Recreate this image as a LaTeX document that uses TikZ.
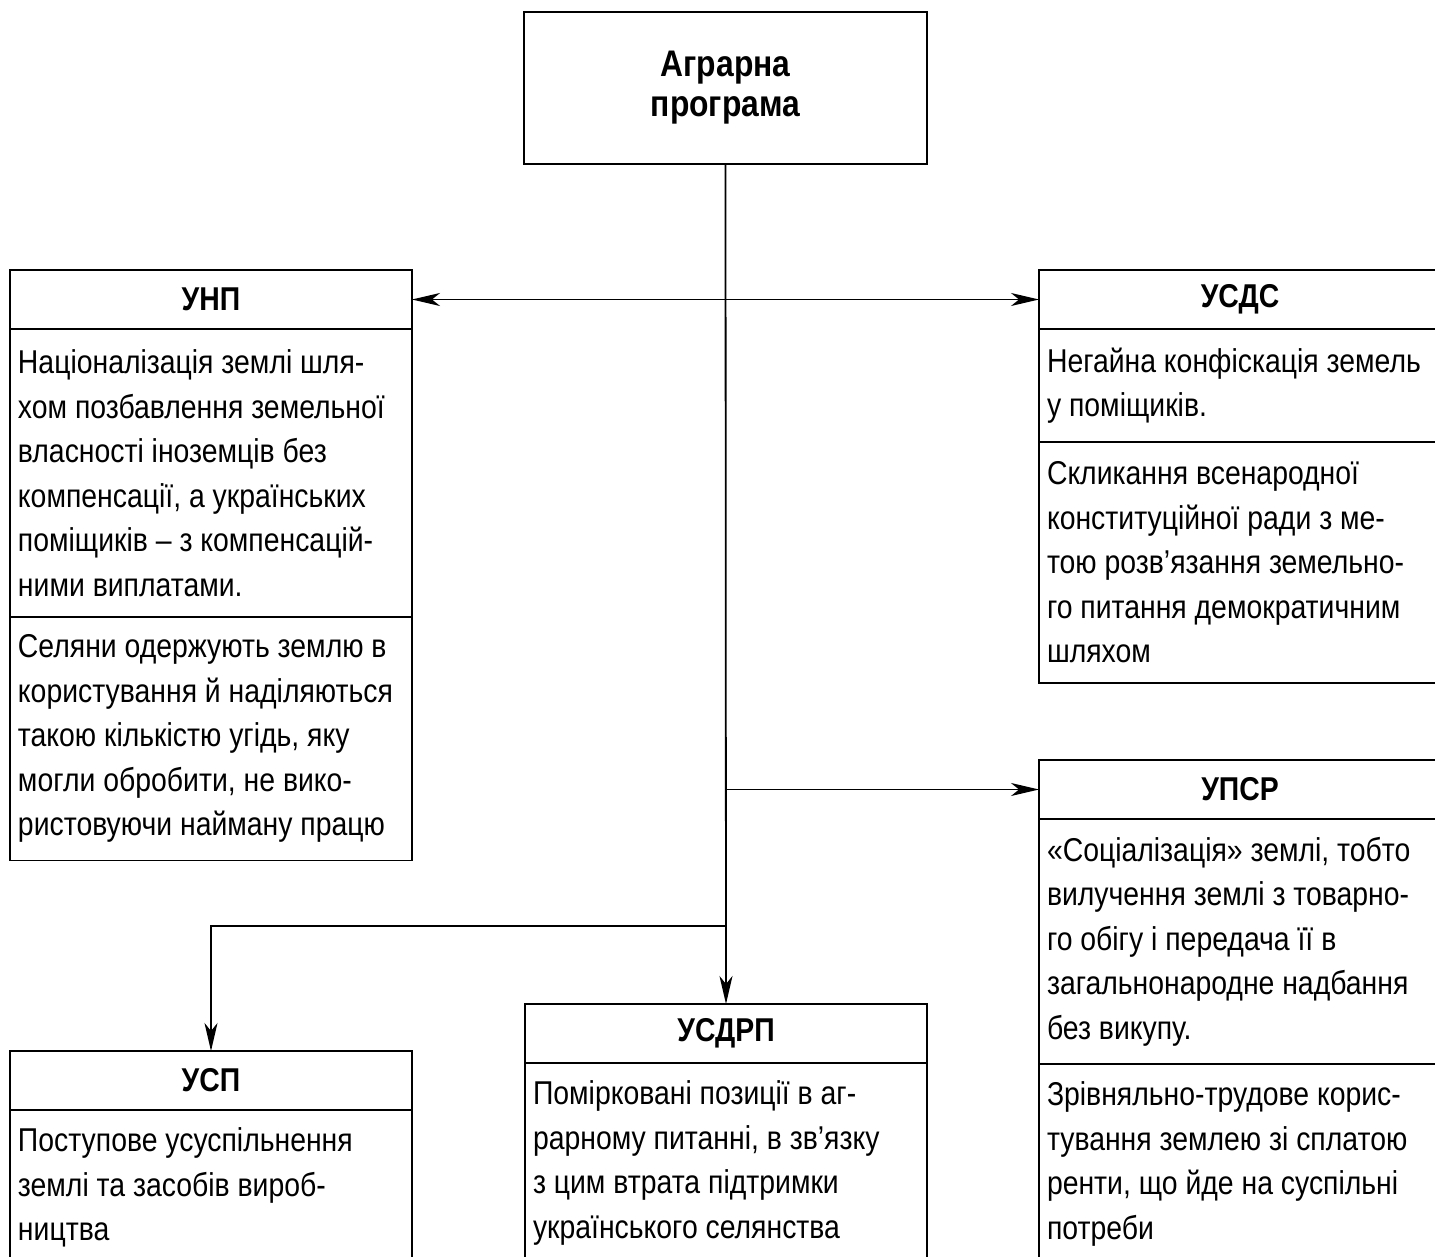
\documentclass[tikz,border=0pt]{standalone}
\usepackage{fontspec}
\setmainfont{Liberation Sans}[FakeStretch=0.86]
\usetikzlibrary{arrows.meta,positioning}

\newcommand{\bodyfont}{\fontsize{16.5}{22.25}\selectfont}
\newcommand{\cutbody}[2]{\parbox[c][#1][t]{193pt}{\raggedright #2}}

\tikzset{
  box/.style={draw,line width=0.9pt,inner sep=0pt,outer sep=0pt,minimum width=201pt},
  hdr/.style={box,font=\bodyfont\bfseries,minimum height=29.5pt},
  txt/.style={box,font=\bodyfont,align=flush left,text width=193pt,inner xsep=4pt},
  cut/.style={box,font=\bodyfont,inner xsep=4pt,inner ysep=9pt},
  conn/.style={line width=0.9pt}
}

\begin{document}
\begin{tikzpicture}[x=0.5pt,y=-0.5pt,>={Stealth[length=14pt,width=6.5pt,inset=4pt]}]
\useasboundingbox (0,0) rectangle (1435,1257);

% programme
\node[box,font=\fontsize{18.5}{20}\selectfont\bfseries,align=center,
  minimum width=201.5pt,minimum height=76pt] (agr) at (725.5,88) {Аграрна\\програма};

% УНП
\node[hdr,anchor=north west] (unp) at (10,270) {УНП};
\node[txt,minimum height=144pt,below=0pt of unp] (unp1) {Націоналізація землі шля-\\
  хом позбавлення земельної\\власності іноземців без\\компенсації, а українських\\
  поміщиків – з компенсацій-\\ними виплатами.};
\node[txt,minimum height=121.75pt,below=0pt of unp1] (unp2) {Селяни одержують землю в\\
  користування й наділяються\\такою кількістю угідь, яку\\могли обробити, не вико-\\
  ристовуючи найману працю};

% УСДС
\node[hdr,anchor=north west] (usds) at (1039,270) {УСДС};
\node[txt,minimum height=56.5pt,below=0pt of usds] (usds1) {Негайна конфіскація земель\\у поміщиків.};
\node[txt,minimum height=120.5pt,below=0pt of usds1] (usds2) {Скликання всенародної\\
  конституційної ради з ме-\\тою розв’язання земельно-\\го питання демократичним\\шляхом};

% УПСР
\node[hdr,anchor=north west] (upsr) at (1039,760) {УПСР};
\node[txt,minimum height=122.5pt,below=0pt of upsr] (upsr1) {«Соціалізація» землі, тобто\\
  вилучення землі з товарно-\\го обігу і передача її в\\загальнонародне надбання\\без викупу.};
\node[cut,below=0pt of upsr1] (upsr2) {\cutbody{100pt}{Зрівняльно-трудове корис-\\
  тування землею зі сплатою\\ренти, що йде на суспільні\\потреби}};

% УСП
\node[hdr,anchor=north west] (usp) at (10,1051) {УСП};
\node[cut,below=0pt of usp] (usp1) {\cutbody{80pt}{Поступове усуспільнення\\
  землі та засобів вироб-\\ництва}};

% УСДРП
\node[hdr,anchor=north west] (usdrp) at (525,1004) {УСДРП};
\node[cut,below=0pt of usdrp] (usdrp1) {\cutbody{100pt}{Помірковані позиції в аг-\\
  рарному питанні, в зв’язку\\з цим втрата підтримки\\українського селянства}};

% connectors
\coordinate (j1) at (agr.south |- unp.east);
\coordinate (j2) at (agr.south |- upsr.west);
\coordinate (j3) at (726,926);
\draw[conn,->] (agr.south) -- (usdrp.north);
\draw[conn,->] (j1) -- (unp.east);
\draw[conn,->] (j1) -- (usds.west);
\draw[conn,->] (j2) -- (upsr.west);
\draw[conn,->] (j3) -| (usp.north);
\end{tikzpicture}
\end{document}
